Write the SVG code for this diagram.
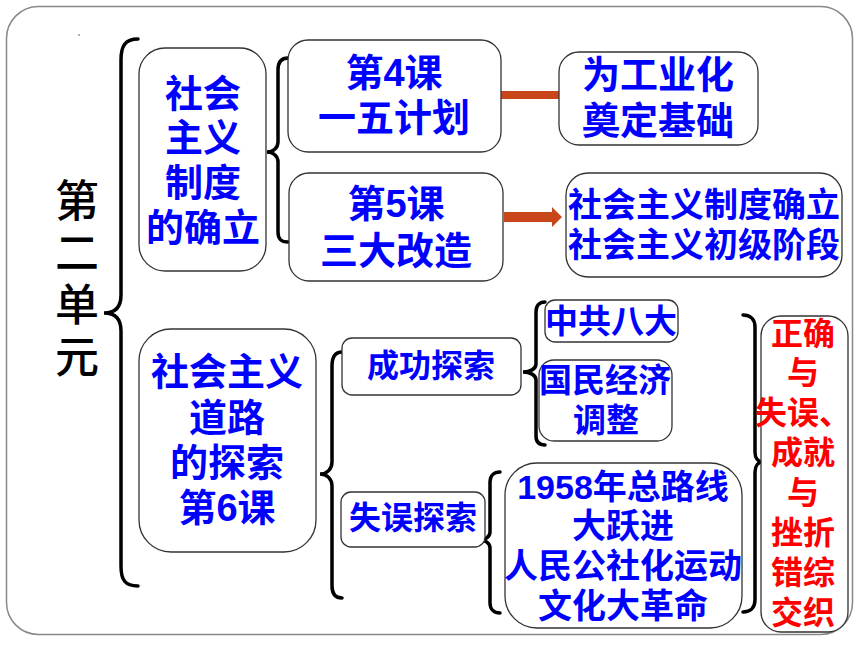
<svg xmlns="http://www.w3.org/2000/svg" width="860" height="645" viewBox="0 0 860 645">
<style>
.box{fill:#fff;stroke:#333;stroke-width:1.3}
.t{font-family:"Liberation Sans","Noto Sans CJK SC",sans-serif;font-weight:bold;fill:#0000ff;text-anchor:middle}
.r{font-family:"Liberation Sans","Noto Sans CJK SC",sans-serif;font-weight:bold;fill:#ff0000;text-anchor:middle;font-size:32px}
.k{font-family:"Liberation Sans","Noto Sans CJK SC",sans-serif;font-weight:500;fill:#000;text-anchor:middle;font-size:44px}
.br{fill:none;stroke:#000;stroke-width:3.5;stroke-linecap:round}
.ar{fill:#c9461b}
</style>
<rect x="6.5" y="6.5" width="846" height="628" rx="32" fill="#fff" stroke="#888" stroke-width="1.5"/>
<circle cx="79" cy="35" r="0.9" fill="#888"/>
<g id="unit">
<text class="k" x="77" y="217">第</text>
<text class="k" x="77" y="269">二</text>
<text class="k" x="77" y="321">单</text>
<text class="k" x="77" y="373">元</text>
</g>
<g id="connectors">
<path class="br" d="M138,39 C125,39 121,46 121,60 L121,295 C121,307 115,313 104,313 C115,313 121,319 121,331 L121,566 C121,580 125,586 138,586"/>
<path class="br" d="M288,58 C281,58 278,62 278,70 L278,142 C278,148 273,152 267,152 C273,152 278,156 278,162 L278,232 C278,239 281,242 288,242"/>
<path class="br" d="M342,352 C335,352 332,357 332,366 L332,462 C332,469 327,474 320,474 C327,474 332,479 332,486 L332,586 C332,594 335,598 342,598"/>
<path class="br" d="M545,302 C539,302 536,306 536,312 L536,364 C536,369 530,372 523,372 C530,372 536,375 536,380 L536,436 C536,442 539,445 545,445"/>
<path class="br" d="M500,472 C494,472 490,476 490,482 L490,532 C490,537 485,540 480,540 C485,540 490,543 490,548 L490,603 C490,609 494,613 500,613"/>
<path class="br" d="M743,315 C750,315 755,319 755,327 L755,452 C755,458 758,462 763,462 C758,462 755,466 755,472 L755,600 C755,608 750,612 743,612"/>
<rect class="ar" x="497" y="91" width="63" height="8"/>
<polygon class="ar" points="504,212 552,212 552,207 562,217 552,227 552,222 504,222"/>
</g>
<g id="n-socialist-system">
<rect class="box" x="139" y="48" width="127" height="223" rx="26"/>
<text class="t" font-size="38" x="203" y="107">社会</text>
<text class="t" font-size="38" x="203" y="151">主义</text>
<text class="t" font-size="38" x="203" y="196">制度</text>
<text class="t" font-size="38" x="203" y="241">的确立</text>
</g>
<g id="n-lesson4">
<rect class="box" x="288" y="40" width="213" height="112" rx="20"/>
<text class="t" font-size="38" x="394" y="86">第4课</text>
<text class="t" font-size="38" x="394" y="131">一五计划</text>
</g>
<g id="n-lesson5">
<rect class="box" x="289" y="173" width="214" height="108" rx="20"/>
<text class="t" font-size="38" x="396" y="217">第5课</text>
<text class="t" font-size="38" x="396" y="264">三大改造</text>
</g>
<g id="n-industry">
<rect class="box" x="559" y="52" width="199" height="93" rx="20"/>
<text class="t" font-size="38" x="658" y="88">为工业化</text>
<text class="t" font-size="38" x="658" y="134">奠定基础</text>
</g>
<g id="n-established">
<rect class="box" x="566" y="173" width="276" height="104" rx="22"/>
<text class="t" font-size="34" x="704" y="217">社会主义制度确立</text>
<text class="t" font-size="34" x="704" y="257">社会主义初级阶段</text>
</g>
<g id="n-road">
<rect class="box" x="139" y="329" width="177" height="223" rx="32"/>
<text class="t" font-size="38" x="227" y="385">社会主义</text>
<text class="t" font-size="38" x="227" y="431">道路</text>
<text class="t" font-size="38" x="227" y="476">的探索</text>
<text class="t" font-size="38" x="227" y="521">第6课</text>
</g>
<g id="n-success">
<rect class="box" x="342" y="338" width="179" height="57" rx="10"/>
<text class="t" font-size="32" x="431" y="377">成功探索</text>
</g>
<g id="n-mistake">
<rect class="box" x="341" y="492" width="144" height="55" rx="10"/>
<text class="t" font-size="32" x="413" y="529">失误探索</text>
</g>
<g id="n-8th">
<rect class="box" x="545" y="300" width="133" height="42" rx="10"/>
<text class="t" font-size="33" x="611" y="333">中共八大</text>
</g>
<g id="n-economy">
<rect class="box" x="539" y="360" width="133" height="81" rx="15"/>
<text class="t" font-size="33" x="605" y="392">国民经济</text>
<text class="t" font-size="33" x="606" y="432">调整</text>
</g>
<g id="n-1958">
<rect class="box" x="505" y="463" width="237" height="165" rx="32"/>
<text class="t" font-size="34" x="623" y="499">1958年总路线</text>
<text class="t" font-size="34" x="623" y="538">大跃进</text>
<text class="t" font-size="34" x="623" y="578">人民公社化运动</text>
<text class="t" font-size="34" x="623" y="618">文化大革命</text>
</g>
<g id="n-summary">
<rect class="box" x="761" y="316" width="87" height="316" rx="20"/>
<text class="r" x="803" y="345">正确</text>
<text class="r" x="803" y="384">与</text>
<text class="r" x="803" y="424">失误、</text>
<text class="r" x="803" y="464">成就</text>
<text class="r" x="803" y="504">与</text>
<text class="r" x="803" y="544">挫折</text>
<text class="r" x="803" y="584">错综</text>
<text class="r" x="803" y="624">交织</text>
</g>
</svg>
